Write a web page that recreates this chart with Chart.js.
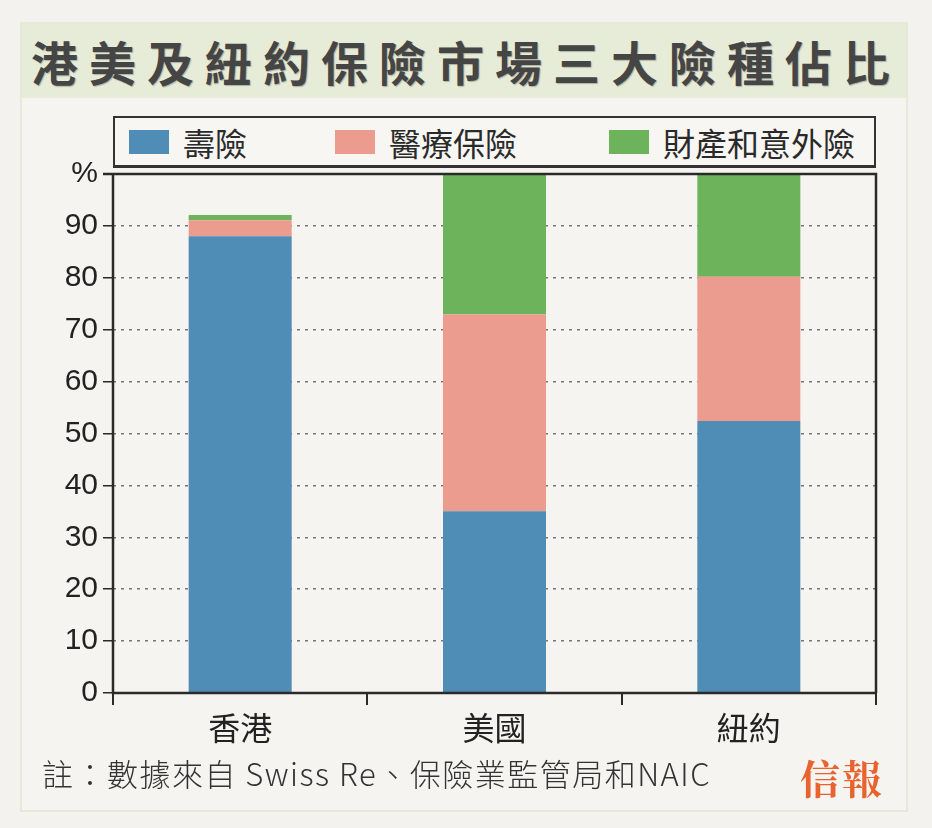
<!DOCTYPE html>
<html>
<head>
<meta charset="utf-8">
<script src="https://cdn.jsdelivr.net/npm/chart.js@4.4.0/dist/chart.umd.min.js"></script>
<style>
  html, body { margin: 0; padding: 0; }
  body { width: 932px; height: 828px; background: #f3f2ee; position: relative; overflow: hidden;
         font-family: "Noto Sans CJK TC", "Noto Sans", sans-serif; }
  #frame { position: absolute; left: 20px; top: 22px; width: 888px; height: 790px; background: #f5f4f1;
           border: 2px solid #e4ead6; box-sizing: border-box; }
  #title { position: absolute; left: 22px; top: 24px; width: 884px; height: 74px; background: #e6ecd8;
           color: #454545; font-weight: bold; font-size: 47px; letter-spacing: 11px; line-height: 74px;
           text-align: center; white-space: nowrap; text-indent: 4px;
           text-shadow: 1px 1px 1px rgba(0,0,0,0.25); }
  #chartBox { position: absolute; left: 0; top: 0; width: 932px; height: 828px; }
  #legend { position: absolute; left: 113px; top: 116px; width: 763px; height: 52px; box-sizing: border-box;
            border: 2px solid #333; border-bottom-width: 3px; background: #f7f6f3; }
  .item { position: absolute; top: 0; height: 48px; display: flex; align-items: center;
          font-size: 32px; color: #2a2a2a; }
  .swatch { width: 40px; height: 24px; margin-right: 14px; }
  #note { position: absolute; left: 42px; top: 750px; font-size: 31px; letter-spacing: 1.5px;
          color: #333; font-weight: 300; }
  #logo { position: absolute; left: 800px; top: 748px; font-size: 40px; color: #e9632e; font-weight: bold;
          font-family: "Noto Serif CJK TC", "Noto Sans CJK TC", serif; letter-spacing: 2px; }
</style>
</head>
<body>
<div id="frame"></div>
<div id="title">港美及紐約保險市場三大險種佔比</div>
<div id="chartBox"><canvas id="chart" width="932" height="828"></canvas></div>
<div id="legend"></div>
<div id="note">註：數據來自 Swiss Re、保險業監管局和NAIC</div>
<div id="logo">信報</div>
<script>
const categories = ['香港', '美國', '紐約'];
const seriesNames = ['壽險', '醫療保險', '財產和意外險'];
const lifeValues = [88, 35, 52.4];
const medicalValues = [3.1, 38, 27.8];
const propertyValues = [1, 27, 19.8];
const yTicks = [0, 10, 20, 30, 40, 50, 60, 70, 80, 90, 100];
const colors = ['#4f8cb6', '#ec9c8f', '#6cb35c'];

const legendLeft = [14, 220, 494];

// frame lines around the plot area
const framePlugin = {
    id: 'frame',
    afterDatasetsDraw(chart) {
        const a = chart.chartArea;
        const ctx = chart.ctx;
        ctx.save();
        ctx.strokeStyle = '#2a2a2a';
        ctx.lineWidth = 2.5;
        ctx.beginPath();
        ctx.moveTo(a.left - 10, a.top);
        ctx.lineTo(a.right, a.top);
        ctx.lineTo(a.right, a.bottom);
        ctx.moveTo(a.left, a.top);
        ctx.lineTo(a.left, a.bottom);
        ctx.lineTo(a.right, a.bottom);
        ctx.stroke();
        ctx.restore();
    }
};

const chart = new Chart(document.getElementById('chart'), {
    type: 'bar',
    data: {
        labels: categories,
        datasets: [
            { label: seriesNames[0], data: lifeValues, backgroundColor: colors[0] },
            { label: seriesNames[1], data: medicalValues, backgroundColor: colors[1] },
            { label: seriesNames[2], data: propertyValues, backgroundColor: colors[2] }
        ]
    },
    options: {
        responsive: false,
        animation: false,
        layout: { padding: { left: 43, right: 56, top: 174, bottom: 75 } },
        datasets: { bar: { categoryPercentage: 1, barPercentage: 0.405 } },
        plugins: { legend: { display: false }, tooltip: { enabled: false } },
        scales: {
            x: {
                stacked: true,
                grid: { offset: true, drawOnChartArea: false, drawTicks: true, tickLength: 12,
                        color: '#2a2a2a', lineWidth: 2 },
                border: { display: false },
                ticks: { font: { size: 32, family: 'Noto Sans CJK TC' }, color: '#222', padding: 4 },
                afterFit: s => { s.height = 60; }
            },
            y: {
                stacked: true,
                min: 0,
                max: 100,
                afterBuildTicks: s => { s.ticks = yTicks.map(v => ({ value: v })); },
                grid: {
                    color: ctx => (ctx.tick && (ctx.tick.value === 0 || ctx.tick.value === 100)) ? 'rgba(0,0,0,0)' : '#777',
                    lineWidth: 1.5,
                    tickColor: '#2a2a2a',
                    tickLength: 10,
                    drawTicks: true
                },
                border: { display: false, dash: [3, 5] },
                ticks: {
                    font: { size: 30, family: 'Liberation Sans' },
                    color: '#222',
                    padding: 5,
                    callback: v => v === 100 ? '%' : v
                },
                afterFit: s => { s.width = 70; }
            }
        }
    },
    plugins: [framePlugin]
});

// legend built from the datasets
const legend = document.getElementById('legend');
chart.data.datasets.forEach((ds, i) => {
    const item = document.createElement('div');
    item.className = 'item';
    item.style.left = legendLeft[i] + 'px';
    item.innerHTML = `<span class="swatch" style="background:${ds.backgroundColor}"></span><span>${ds.label}</span>`;
    legend.appendChild(item);
});
</script>
</body>
</html>
